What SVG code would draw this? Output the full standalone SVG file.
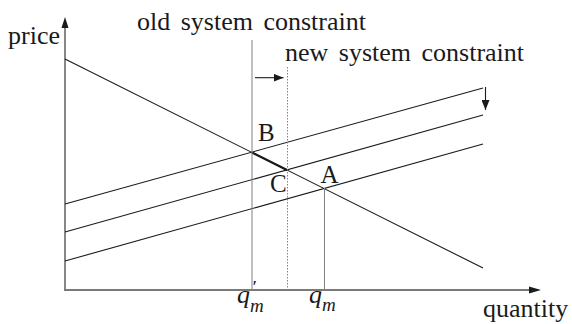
<svg xmlns="http://www.w3.org/2000/svg" width="572" height="324" viewBox="0 0 572 324" font-family="'Liberation Serif', 'DejaVu Serif', serif">
<style>
text{font-family:'Liberation Serif','DejaVu Serif',serif;fill:#1a1a1a}
.lbl{font-size:26px}
.ws{word-spacing:4px}
.pt{font-size:25px}
.ax{stroke:#7a7a7a;stroke-width:1.8;fill:none}
.vl{stroke:#808080;stroke-width:1;fill:none}
.ln{stroke:#1a1a1a;stroke-width:1.1;fill:none}
.mi{font-style:italic}
</style>
<defs>
<marker id="ah" viewBox="0 0 10 8" refX="10" refY="4" markerWidth="10" markerHeight="8" markerUnits="userSpaceOnUse" orient="auto">
<path d="M0,0 L10,4 L0,8 Z" fill="#1a1a1a"/>
</marker>
</defs>
<g id="axes">
<line class="ax" x1="65" y1="290" x2="65" y2="27"/>
<path d="M65,17 L61.5,28 L68.5,28 Z" fill="#1a1a1a"/>
<line class="ax" x1="64" y1="290" x2="530" y2="290"/>
<path d="M541,290 L529,286.5 L529,293.5 Z" fill="#1a1a1a"/>
</g>
<g id="connectors">
<line class="ln" x1="65" y1="59" x2="483" y2="268"/>
<line stroke="#1a1a1a" stroke-width="2.4" x1="252" y1="152.5" x2="287.5" y2="170.3"/>
<line class="ln" x1="65" y1="204" x2="483" y2="88"/>
<line class="ln" x1="65" y1="232" x2="483" y2="115"/>
<line class="ln" x1="65" y1="261" x2="483" y2="144"/>
<line class="vl" x1="252" y1="40" x2="252" y2="290"/>
<line class="vl" x1="287.5" y1="67" x2="287.5" y2="290" stroke-dasharray="1.5,1.5"/>
<line class="vl" x1="324.5" y1="188" x2="324.5" y2="290"/>
<line stroke="#1a1a1a" stroke-width="1.1" x1="255" y1="77.7" x2="283.5" y2="77.7" marker-end="url(#ah)"/>
<line stroke="#1a1a1a" stroke-width="1.1" x1="485.5" y1="87" x2="485.5" y2="110" marker-end="url(#ah)"/>
</g>
<g id="labels">
<text class="lbl" x="8" y="44">price</text>
<text class="lbl ws" x="137" y="30">old system constraint</text>
<text class="lbl ws" x="285" y="61">new system constraint</text>
<text class="lbl" x="483" y="317">quantity</text>
</g>
<g id="point-B"><text class="pt" x="258" y="141">B</text></g>
<g id="point-C"><text class="pt" x="270" y="191.5">C</text></g>
<g id="point-A"><text class="pt" x="320.5" y="183.3">A</text></g>
<g id="tick-qm-prime">
<text x="237" y="303" font-size="26"><tspan class="mi">q</tspan><tspan x="252.5" y="292" font-size="16" font-weight="bold">′</tspan><tspan class="mi" x="250" y="312" font-size="19">m</tspan></text>
</g>
<g id="tick-qm">
<text x="309" y="303" font-size="26"><tspan class="mi">q</tspan><tspan class="mi" x="322" y="311" font-size="19">m</tspan></text>
</g>
</svg>
